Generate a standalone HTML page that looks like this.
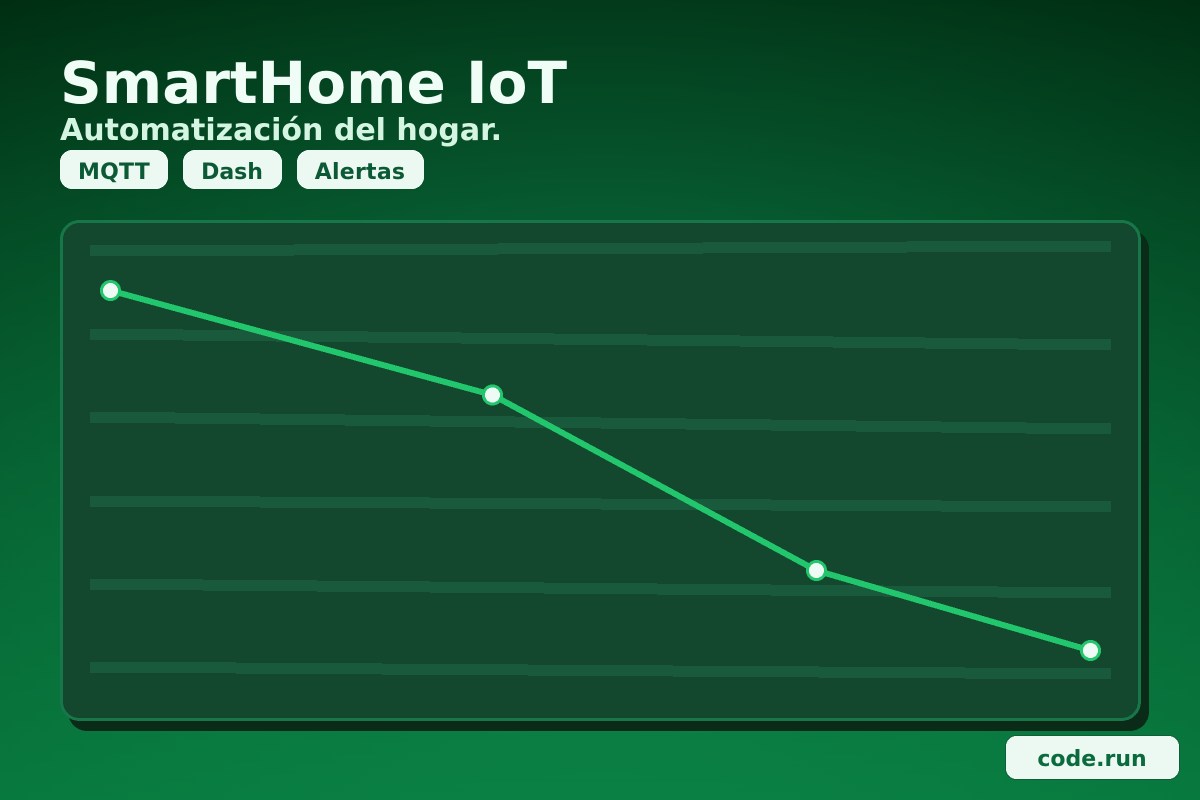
<!DOCTYPE html>
<html lang="es">
<head>
<meta charset="utf-8">
<title>SmartHome IoT</title>
<style>
html,body{margin:0;padding:0;width:1200px;height:800px;overflow:hidden;background:#034a25}
svg{display:block}
text{font-family:"DejaVu Sans","Liberation Sans",sans-serif;font-weight:700}
</style>
</head>
<body>
<svg id="scene" xmlns="http://www.w3.org/2000/svg" width="1200" height="800" viewBox="0 0 1200 800">
  <defs>
    <linearGradient id="bg" x1="0" y1="0" x2="0" y2="1">
      <stop offset="0" stop-color="#002e12"/>
      <stop offset="1" stop-color="#08793e"/>
    </linearGradient>
    <radialGradient id="glow" cx="0.5" cy="0.5" r="0.7071">
      <stop offset="0" stop-color="#28ffaa" stop-opacity="0.19"/>
      <stop offset="1" stop-color="#28ffaa" stop-opacity="0"/>
    </radialGradient>
  </defs>
  <rect x="0" y="0" width="1200" height="800" fill="url(#bg)"/>
  <rect x="0" y="0" width="1200" height="800" fill="url(#glow)"/>

  <text x="60" y="103" font-size="58" fill="#f0fdf6">SmartHome IoT</text>
  <text x="60" y="140" font-size="30" fill="#d5f5e3">Automatización del hogar.</text>

  <g>
    <rect x="60" y="150" width="108" height="39" rx="12" fill="#ecf8f2" shape-rendering="crispEdges"/>
    <text x="114" y="179" font-size="22" letter-spacing="0.25" text-anchor="middle" fill="#0b5a35">MQTT</text>
  </g>
  <g>
    <rect x="183" y="150" width="99" height="39" rx="12" fill="#ecf8f2" shape-rendering="crispEdges"/>
    <text x="232" y="179" font-size="22" text-anchor="middle" fill="#0b5a35">Dash</text>
  </g>
  <g>
    <rect x="297" y="150" width="127" height="39" rx="12" fill="#ecf8f2" shape-rendering="crispEdges"/>
    <text x="360" y="179" font-size="22" letter-spacing="0.25" text-anchor="middle" fill="#0b5a35">Alertas</text>
  </g>

  <rect x="68" y="230" width="1081" height="501" rx="19" fill="#0a2b18" shape-rendering="crispEdges"/>
  <rect x="61.5" y="221.5" width="1078" height="498" rx="18" fill="#13482f" stroke="#17774a" stroke-width="3" shape-rendering="crispEdges"/>

  <g id="grid" shape-rendering="crispEdges"></g>
  <g id="series" shape-rendering="crispEdges"></g>

  <g>
    <rect x="1005.5" y="735.5" width="174" height="44" rx="11" fill="#ecf8f2" stroke="#0e5f38" stroke-width="1" shape-rendering="crispEdges"/>
    <text x="1092" y="766" font-size="22" text-anchor="middle" fill="#0b6b3c">code.run</text>
  </g>
</svg>
<script>
// Chart data, in axis units
const gridStart = [99.89, 80.8, 61.93, 42.84, 23.98, 5.11];
const gridEnd = [100.8, 78.52, 59.43, 41.7, 22.16, 3.75];
const seriesX = [0, 38.98, 72.04, 100];
const seriesY = [90.9, 67.16, 27.27, 9.09];

const NS = 'http://www.w3.org/2000/svg';
function xAxis(v) { return 110.5 + v * 9.8; }
function yAxis(v) { return 690.5 - v * 4.4; }
function gridYAxis(v) { return 690 - v * 4.4; }

const gridGroup = document.getElementById('grid');
gridStart.forEach(function (start, i) {
  const yStart = gridYAxis(start);
  const yEnd = gridYAxis(gridEnd[i]);
  const steps = Math.round(Math.abs(yEnd - yStart));
  const dir = yEnd >= yStart ? 1 : -1;
  const gridLine = document.createElementNS(NS, 'g');
  
  
  for (let k = 0; k <= steps; k++) {
    const x0 = Math.round(90 + 1021 * k / (steps + 1));
    const x1 = Math.round(90 + 1021 * (k + 1) / (steps + 1));
    const segment = document.createElementNS(NS, 'rect');
    
    
    segment.setAttribute('x', x0);
    segment.setAttribute('y', Math.round(yStart - 5.5 + dir * k));
    segment.setAttribute('width', x1 - x0);
    segment.setAttribute('height', 11);
    segment.setAttribute('fill', '#1a5a3c');
    gridLine.appendChild(segment);
  }
  gridGroup.appendChild(gridLine);
});

const seriesGroup = document.getElementById('series');
const trend = document.createElementNS(NS, 'polyline');


trend.setAttribute('points', seriesX.map(function (x, i) { return xAxis(x) + ',' + yAxis(seriesY[i]); }).join(' '));
trend.setAttribute('fill', 'none');
trend.setAttribute('stroke', '#22c66c');
trend.setAttribute('stroke-width', 6);
seriesGroup.appendChild(trend);

seriesX.forEach(function (x, i) {
  const point = document.createElementNS(NS, 'circle');
  
  
  point.setAttribute('cx', xAxis(x));
  point.setAttribute('cy', yAxis(seriesY[i]));
  point.setAttribute('r', 9);
  point.setAttribute('fill', '#eefaf4');
  point.setAttribute('stroke', '#22c66c');
  point.setAttribute('stroke-width', 3);
  seriesGroup.appendChild(point);
});
</script>
</body>
</html>
